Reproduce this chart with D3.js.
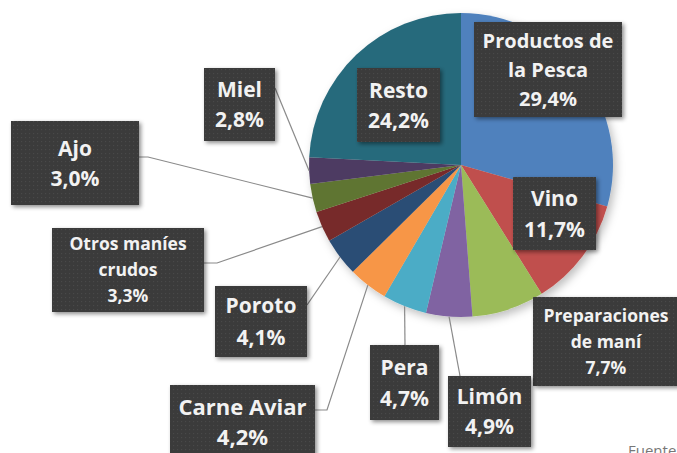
<!DOCTYPE html>
<html><head><meta charset="utf-8">
<script src="https://cdn.jsdelivr.net/npm/d3@7"></script>
<style>
html,body{margin:0;padding:0;background:#fff;overflow:hidden;}
svg{display:block;}
</style></head>
<body>
<svg id="chart" width="677" height="453"></svg>
<script>
// ---- data ----
const categories = ["Productos de la Pesca","Vino","Preparaciones de maní","Limón","Pera","Carne Aviar","Poroto","Otros maníes crudos","Ajo","Miel","Resto"];
const values = [29.4, 11.7, 7.7, 4.9, 4.7, 4.2, 4.1, 3.3, 3.0, 2.8, 24.2];
const labelLines = [["Productos de","la Pesca"],["Vino"],["Preparaciones","de maní"],["Limón"],["Pera"],["Carne Aviar"],["Poroto"],["Otros maníes","crudos"],["Ajo"],["Miel"],["Resto"]];
const colors = ["#4F81BD","#C0504D","#9BBB59","#8064A2","#4BACC6","#F79646","#2C4D75","#772C2A","#5F7530","#4D3B62","#276A7C"];
const sourceText = "Fuente: INDEC";

// ---- layout (boxes and leader elbows) ----
const layout = [
  {box:[474,22,148,95], fs:20, lh:29},
  {box:[513,177,83,73], fs:21, lh:31},
  {box:[533,297,146,89], fs:17.5, lh:26},
  {box:[448,376,83,71], fs:21, lh:30, elbow:[[460,376]]},
  {box:[370,345,69,75], fs:21, lh:31, elbow:[[405,345]]},
  {box:[170,385,145,75], fs:22, lh:30, elbow:[[315,410],[327,410]]},
  {box:[215,286,92,71], fs:21, lh:32, elbow:[[307,305]]},
  {box:[52,228,152,84], fs:17.5, lh:26, elbow:[[204,263],[217,263]]},
  {box:[11,121,128,84], fs:21, lh:30, elbow:[[139,157],[148,157]]},
  {box:[204,68,71,73], fs:21, lh:30, elbow:[[275,88]]},
  {box:[357,68,83,74], fs:21, lh:30}
];

const svg = d3.select("#chart");
const cx = 461, cy = 165, R = 152;
const FONT = "'Open Sans', 'Noto Sans', sans-serif";

const defs = svg.append("defs");
const pat = defs.append("pattern").attr("id","dots").attr("patternUnits","userSpaceOnUse")
  .attr("width",4).attr("height",4);
pat.append("rect").attr("width",4).attr("height",4).attr("fill","#3a3a3a");
pat.append("rect").attr("x",1).attr("y",1).attr("width",1.2).attr("height",1.2).attr("fill","#4a4a4a");
const sh = defs.append("filter").attr("id","shadow").attr("x","-20%").attr("y","-20%").attr("width","150%").attr("height","150%");
sh.append("feDropShadow").attr("dx",2).attr("dy",2).attr("stdDeviation",2).attr("flood-color","#000").attr("flood-opacity",0.45);
const psh = defs.append("filter").attr("id","pieshadow").attr("x","-20%").attr("y","-20%").attr("width","150%").attr("height","150%");
psh.append("feDropShadow").attr("dx",3).attr("dy",4).attr("stdDeviation",4).attr("flood-color","#000").attr("flood-opacity",0.25);

const data = categories.map((c,i)=>({cat:c, value:values[i], color:colors[i], lines:labelLines[i], lay:layout[i]}));
const pie = d3.pie().sort(null).value(d=>d.value);
const arcs = pie(data);
const arc = d3.arc().innerRadius(0).outerRadius(R);

const g = svg.append("g").attr("transform",`translate(${cx},${cy})`).attr("filter","url(#pieshadow)");
g.selectAll("path").data(arcs).join("path")
  .attr("d",arc).attr("fill",d=>d.data.color);

// leader lines
const fmt = v => d3.format(".1f")(v).replace(".",",") + "%";
arcs.forEach(a=>{
  const L = a.data.lay;
  if(!L.elbow) return;
  const mid = (a.startAngle+a.endAngle)/2;
  const px = cx + R*Math.sin(mid), py = cy - R*Math.cos(mid);
  const pts = L.elbow.concat([[px,py]]);
  svg.append("path").attr("d", d3.line()(pts))
    .attr("fill","none").attr("stroke","#8a8a8a").attr("stroke-width",1.2);
});

// label boxes
arcs.forEach(a=>{
  const L = a.data.lay;
  const [x,y,w,h] = L.box;
  const lg = svg.append("g");
  lg.append("rect").attr("x",x).attr("y",y).attr("width",w).attr("height",h)
    .attr("fill","url(#dots)").attr("filter","url(#shadow)");
  const lines = a.data.lines.concat([fmt(a.data.value)]);
  const n = lines.length;
  const midBase = y + h/2 + L.fs*0.36;
  lines.forEach((t,i)=>{
    lg.append("text").attr("x",x+w/2)
      .attr("y", midBase + (i-(n-1)/2)*L.lh)
      .attr("text-anchor","middle")
      .attr("font-family",FONT)
      .attr("font-weight","bold")
      .attr("font-size",L.fs)
      .attr("fill","#f2f2f2")
      .text(t);
  });
});

svg.append("text").attr("x",628).attr("y",456)
  .attr("font-family",FONT)
  .attr("font-size",15).attr("fill","#777").text(sourceText);
</script>
</body></html>
